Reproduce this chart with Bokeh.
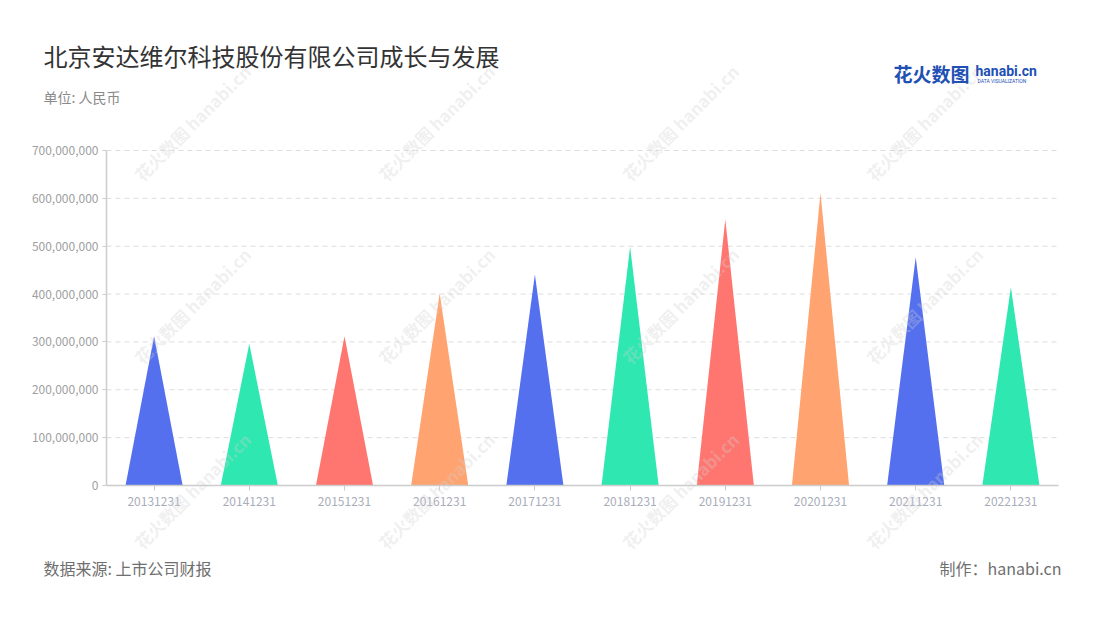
import math
from bokeh.plotting import figure
from bokeh.models import Range1d, FixedTicker, NumeralTickFormatter, Label, ColumnDataSource
from bokeh.embed import file_html
from bokeh.resources import INLINE

# ---- data ----
categories = ["20131231", "20141231", "20151231", "20161231", "20171231",
              "20181231", "20191231", "20201231", "20211231", "20221231"]
values = [312e6, 296e6, 312e6, 401e6, 441e6, 499e6, 556e6, 611e6, 477e6, 414e6]
palette = ["#5470ee", "#2fe8b1", "#ff7670", "#ffa370"]
y_ticks = [0, 100e6, 200e6, 300e6, 400e6, 500e6, 600e6, 700e6]
Y_MAX = 700e6

title_text = "北京安达维尔科技股份有限公司成长与发展"
unit_text = "单位: 人民币"
source_text = "数据来源: 上市公司财报"
maker_text = "制作：hanabi.cn"

FONT = "Noto Sans CJK SC"

# canvas size and where the plotting area sits (pixels)
W, H = 1084, 604
AL, AR, AT, AB = 106, 1058, 150, 485
N = len(categories)

# the frame covers the whole canvas; ranges are set so that the data
# area [0, N] x [0, Y_MAX] lands on the rectangle above
ux = N / (AR - AL)
uy = Y_MAX / (AB - AT)
x_range = Range1d(-AL * ux, N + (W - AR) * ux)
y_range = Range1d(-(H - AB) * uy, Y_MAX + AT * uy)

p = figure(width=W, height=H, output_backend="svg", toolbar_location=None,
           x_range=x_range, y_range=y_range,
           min_border=0, min_border_left=0, min_border_right=0,
           min_border_top=0, min_border_bottom=0)
p.outline_line_color = None
p.background_fill_color = "white"
p.border_fill_color = "white"

centers = [i + 0.5 for i in range(N)]

# grid lines (only across the data area)
p.segment(x0=[0] * len(y_ticks[1:]), x1=[N] * len(y_ticks[1:]), y0=y_ticks[1:], y1=y_ticks[1:],
          line_color="#dddddd", line_dash="5 4", line_width=1)

# triangles
half = 0.3
xs = [[c - half, c, c + half] for c in centers]
ys = [[0, v, 0] for v in values]
colors = [palette[i % len(palette)] for i in range(N)]
src = ColumnDataSource(dict(xs=xs, ys=ys, color=colors))
p.patches("xs", "ys", source=src, fill_color="color", line_color=None)

p.grid.visible = False

# axes pinned inside the frame
p.xaxis.fixed_location = 0
p.xaxis.bounds = (0, N)
p.xaxis.ticker = FixedTicker(ticks=centers)
p.xaxis.major_label_overrides = {c: lab_ for c, lab_ in zip(centers, categories)}
p.xaxis.minor_tick_line_color = None
p.xaxis.axis_line_color = "#cccccc"
p.xaxis.axis_line_width = 1.5
p.xaxis.major_tick_line_color = "#cccccc"
p.xaxis.major_tick_out = 5
p.xaxis.major_tick_in = 0
p.xaxis.major_label_text_color = "#a9adba"
p.xaxis.major_label_text_font = FONT
p.xaxis.major_label_text_font_size = "12px"
p.xaxis.major_label_standoff = 6

p.yaxis.fixed_location = 0
p.yaxis.bounds = (0, Y_MAX)
p.yaxis.ticker = FixedTicker(ticks=y_ticks)
p.yaxis.formatter = NumeralTickFormatter(format="0,0")
p.yaxis.minor_tick_line_color = None
p.yaxis.axis_line_color = "#cccccc"
p.yaxis.axis_line_width = 1.5
p.yaxis.major_tick_line_color = "#cccccc"
p.yaxis.major_tick_out = 4
p.yaxis.major_tick_in = 0
p.yaxis.major_label_text_color = "#a0a0a0"
p.yaxis.major_label_text_font = FONT
p.yaxis.major_label_text_font_size = "12px"
p.yaxis.major_label_standoff = 4


def lab(x, y, text, size, color, align="left", font=FONT, style="normal", angle=0.0, alpha=1.0):
    p.add_layout(Label(x=x, y=y, x_units="canvas", y_units="canvas", text=text,
                       text_font=font, text_font_size=size, text_font_style=style,
                       text_color=color, text_alpha=alpha, text_align=align,
                       text_baseline="middle", angle=angle))


# watermarks
for wy in (177, 360, 545):
    for wx in (137, 381, 625, 869):
        lab(wx, wy, "花火数图 hanabi.cn", "17px", "#d0d0d0", style="bold",
            angle=math.pi / 4, alpha=0.32)

lab(43, 55, title_text, "24px", "#333333")
lab(43, 96, unit_text, "14px", "#8a8a8a")
lab(893, 73, "花火数图", "19px", "#2150b4", style="bold")
lab(975, 70, "hanabi.cn", "14px", "#2150b4", font="Roboto", style="bold")
lab(977, 80, "DATA VISUALIZATION", "5px", "#2150b4", font="Roboto")
lab(43, 567, source_text, "16px", "#6f6f6f")
lab(1061, 567, maker_text, "16px", "#6f6f6f", align="right")

open("out.html", "w").write(file_html(p, INLINE))
